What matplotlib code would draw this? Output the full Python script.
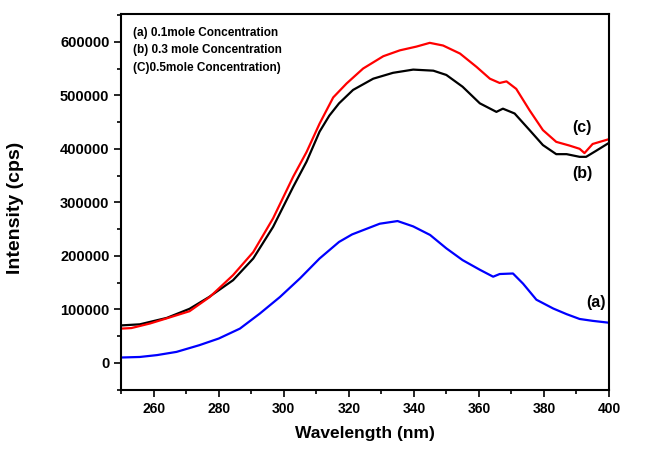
import matplotlib
matplotlib.use("Agg")
import matplotlib.pyplot as plt
from matplotlib.ticker import MultipleLocator, FuncFormatter

plt.rcParams['font.family'] = ['Liberation Sans', 'DejaVu Sans']

# (a) 0.1 mole
wl_a = [250, 255.7, 261, 267, 274, 280, 286.5, 292.6, 298.8, 305, 311, 317, 321, 324.4,
        329.5, 335, 339.8, 345, 350, 355, 360.3, 364.4, 366.4, 370.5, 373.6, 377.7,
        382.9, 387, 391, 395, 400]
int_a = [10000, 11000, 14500, 20500, 33000, 45500, 64000, 92000, 123000, 158000, 195000,
         226000, 240000, 248000, 260000, 265000, 255000, 239000, 214000, 192000, 174000,
         161000, 166000, 167000, 148000, 118000, 101500, 91000, 82000, 78500, 75000]

# (b) 0.3 mole
wl_b = [250, 255.7, 264, 271, 277, 284.4, 290.6, 296.7, 302.9, 307, 311, 314, 317, 321.3,
        327.5, 333.6, 339.8, 346, 350, 355, 360.3, 365.4, 367.4, 371, 375.6, 379.7,
        383.8, 387, 391, 393, 396, 400]
int_b = [70000, 72000, 84000, 101000, 123000, 154500, 195000, 254000, 329000, 376000,
         432000, 462000, 485000, 510000, 531000, 542000, 548000, 546000, 538000, 516000,
         485000, 469000, 475000, 466000, 435000, 407000, 390000, 390000, 385000, 385000,
         396000, 411000]

# (c) 0.5 mole
wl_c = [250, 253.1, 258.8, 263.9, 271, 277.2, 284.4, 290.6, 296.7, 302.9, 307, 311,
        315.2, 319.3, 324.4, 330.6, 335.7, 340.8, 344.9, 349, 354.2, 359.3, 363.4,
        366.4, 368.5, 371.5, 375.6, 379.7, 383.8, 387.9, 391, 392.5, 395, 400]
int_c = [64000, 65000, 73500, 83000, 96500, 123000, 164000, 207000, 270000, 348000,
         394000, 447000, 496000, 522000, 550000, 573000, 584000, 591000, 598000, 593000,
         578000, 553000, 531000, 523000, 526000, 512000, 472000, 435000, 413000, 406000,
         400000, 392000, 409000, 418000]

legend_lines = ["(a) 0.1mole Concentration",
                "(b) 0.3 mole Concentration",
                "(C)0.5mole Concentration)"]
curve_labels = ["(a)", "(b)", "(c)"]
label_pos = [(396, 112000), (391.7, 353000), (391.7, 439000)]

fig = plt.figure(figsize=(6.45, 4.5), dpi=100)
ax = fig.add_axes([0.188, 0.133, 0.756, 0.836])

ax.plot(wl_a, int_a, color='#0000ff', lw=1.6)
ax.plot(wl_b, int_b, color='black', lw=1.6)
ax.plot(wl_c, int_c, color='#ff0000', lw=1.6)

ax.set_xlim(250, 400)
ax.set_ylim(-51000, 652000)
ax.set_xticks([260, 280, 300, 320, 340, 360, 380, 400])
ax.xaxis.set_minor_locator(MultipleLocator(10))
ax.yaxis.set_major_locator(MultipleLocator(100000))
ax.yaxis.set_minor_locator(MultipleLocator(50000))
ax.yaxis.set_major_formatter(FuncFormatter(lambda v, p: f"{int(v)}"))
ax.tick_params(which='both', direction='out', top=False, right=False, width=1.2)
ax.tick_params(which='major', length=5)
ax.tick_params(which='minor', length=3)
ax.tick_params(axis='x', which='major', labelsize=10)
ax.tick_params(axis='y', which='major', labelsize=10.5)
for lab in ax.get_xticklabels() + ax.get_yticklabels():
    lab.set_fontweight('bold')
for s in ax.spines.values():
    s.set_linewidth(1.5)

ax.set_xlabel("Wavelength (nm)", fontsize=12.5, fontweight='bold')
ax.xaxis.set_label_coords(0.5, -0.095)
ax.set_ylabel("Intensity (cps)", fontsize=14, fontweight='bold')
ax.yaxis.set_label_coords(-0.2, 0.484)

for i, t in enumerate(legend_lines):
    ax.text(0.025, 0.965 - i * 0.046, t, transform=ax.transAxes, fontsize=8.5,
            fontweight='bold', va='top', ha='left')

for lab, (x, y) in zip(curve_labels, label_pos):
    ax.text(x, y, lab, fontsize=11.5, fontweight='bold', ha='center', va='center')

fig.savefig("out.png", dpi=100)
